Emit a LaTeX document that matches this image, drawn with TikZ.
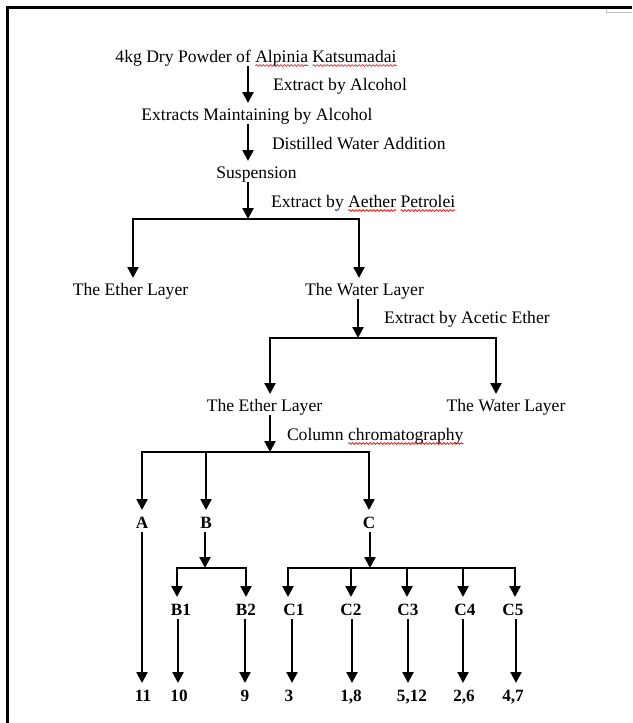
\documentclass[tikz,border=0pt]{standalone}
\usepackage{fontspec}
\setmainfont{Liberation Serif}
\usetikzlibrary{arrows.meta,calc,decorations.pathmorphing}
\begin{document}
\begin{tikzpicture}[x=1pt,y=-1pt,
  txt/.style={inner sep=0pt, outer sep=0pt, anchor=base, text height=12pt, text depth=4pt, font=\fontsize{17.6}{20}\selectfont},
  side/.style={txt, anchor=base west},
  lbl/.style={inner sep=0pt, outer sep=0pt, anchor=base, text height=13pt, text depth=4pt, font=\fontsize{17.2}{20}\selectfont\bfseries},
  ln/.style={line width=2.3pt},
  arr0/.style={ln, -{Triangle[width=11pt,length=11pt]}},
  arr/.style={arr0, shorten >=5pt},
  squiggle/.style={red, line width=0.6pt, decorate, decoration={snake, amplitude=0.9pt, segment length=3.5pt}},
]
\useasboundingbox (0,0) rectangle (632,723);
% frame
\draw[line width=3pt] (7.5,723) -- (7.5,7.5) -- (632,7.5);
\draw[black!25, line width=0.8pt] (606,8.5) -- (606,12) -- (632,12);

% texts
\node[txt] (n0) at (256,62) {4kg Dry Powder of Alpinia Katsumadai};
\node[side] (l1) at (273,90) {Extract by Alcohol};
\node[txt] (n1) at (257,120) {Extracts Maintaining by Alcohol};
\node[side] (l2) at (272,149) {Distilled Water Addition};
\node[txt] (n2) at (256.5,178) {Suspension};
\node[side] (l3) at (271,207) {Extract by Aether Petrolei};
\node[txt] (n3) at (130.5,295) {The Ether Layer};
\node[txt] (n4) at (364.5,295) {The Water Layer};
\node[side] (l4) at (384,323) {Extract by Acetic Ether};
\node[txt] (n5) at (264.5,411) {The Ether Layer};
\node[txt] (n6) at (506,411) {The Water Layer};
\node[side] (l5) at (287,440) {Column chromatography};

% spelling squiggles
\draw[squiggle] ($(n0.base east)+(-141.2,3.5)$) -- ($(n0.base east)+(-88.4,3.5)$);
\draw[squiggle] ($(n0.base east)+(-84,3.5)$) -- ($(n0.base east)+(0,3.5)$);
\draw[squiggle] ($(l3.base east)+(-107.1,3.5)$) -- ($(l3.base east)+(-59.2,3.5)$);
\draw[squiggle] ($(l3.base east)+(-54.8,3.5)$) -- ($(l3.base east)+(0,3.5)$);
\draw[squiggle] ($(l5.base east)+(-115.3,3.5)$) -- ($(l5.base east)+(0,3.5)$);

\node[lbl] (A) at (142,528) {A};
\node[lbl] (B) at (206,528) {B};
\node[lbl] (C) at (369,528) {C};
\node[lbl] (B1) at (181,615) {B1};
\node[lbl] (B2) at (246,615) {B2};
\node[lbl] (C1) at (294,615) {C1};
\node[lbl] (C2) at (351,615) {C2};
\node[lbl] (C3) at (408,615) {C3};
\node[lbl] (C4) at (465,615) {C4};
\node[lbl] (C5) at (513,615) {C5};
\node[lbl] (r11) at (143,701) {11};
\node[lbl] (r10) at (179,701) {10};
\node[lbl] (r9) at (245,701) {9};
\node[lbl] (r3) at (289,701) {3};
\node[lbl] (r18) at (351,701) {1,8};
\node[lbl] (r512) at (412,701) {5,12};
\node[lbl] (r26) at (464,701) {2,6};
\node[lbl] (r47) at (513,701) {4,7};

% main chain
\coordinate (J0) at (248,0);
\draw[arr] (n0.south -| J0) -- (n1.north -| J0);
\draw[arr] (n1.south -| J0) -- (n2.north -| J0);
\coordinate (J1) at (248,219);
\draw[arr0] (n2.south -| J1) -- (J1);
\coordinate (L1) at (133,219);
\coordinate (R1) at (359,219);
\draw[arr] (J1) -| (L1 |- n3.north);
\draw[arr] (J1) -| (R1 |- n4.north);

\coordinate (J2) at (358,338);
\draw[arr0] (n4.south -| J2) -- (J2);
\coordinate (L2) at (270,338);
\coordinate (R2) at (496,338);
\draw[arr] (J2) -| (L2 |- n5.north);
\draw[arr] (J2) -| (R2 |- n6.north);

\coordinate (J3) at (270,452);
\draw[arr0] (n5.south -| J3) -- (J3);
\draw[arr] (J3) -| (A.north);
\draw[arr] (J3) -| (B.north);
\draw[arr] (J3) -| (C.north);

% B branch
\coordinate (J4) at (205,568);
\draw[arr0] (B.south -| J4) -- (J4);
\coordinate (LB) at (177,568);
\coordinate (RB) at (246,568);
\draw[arr] (J4) -| (LB |- B1.north);
\draw[arr] (J4) -| (RB |- B2.north);

% C branch
\coordinate (J5) at (370,568);
\draw[arr0] (C.south -| J5) -- (J5);
\foreach \i/\x in {1/288,2/351,3/407,4/463,5/515} {
  \coordinate (cb\i) at (\x,568);
  \draw[arr] (J5) -| (cb\i |- C\i.north);
}

% final arrows
\draw[arr] (A.south) -- (A.south |- r11.north);
\foreach \s/\t/\x in {B1/r10/178, B2/r9/245, C1/r3/292, C2/r18/352, C3/r512/408, C4/r26/463, C5/r47/516} {
  \coordinate (v\s) at (\x,0);
  \draw[arr] (\s.south -| v\s) -- (\t.north -| v\s);
}
\end{tikzpicture}
\end{document}
